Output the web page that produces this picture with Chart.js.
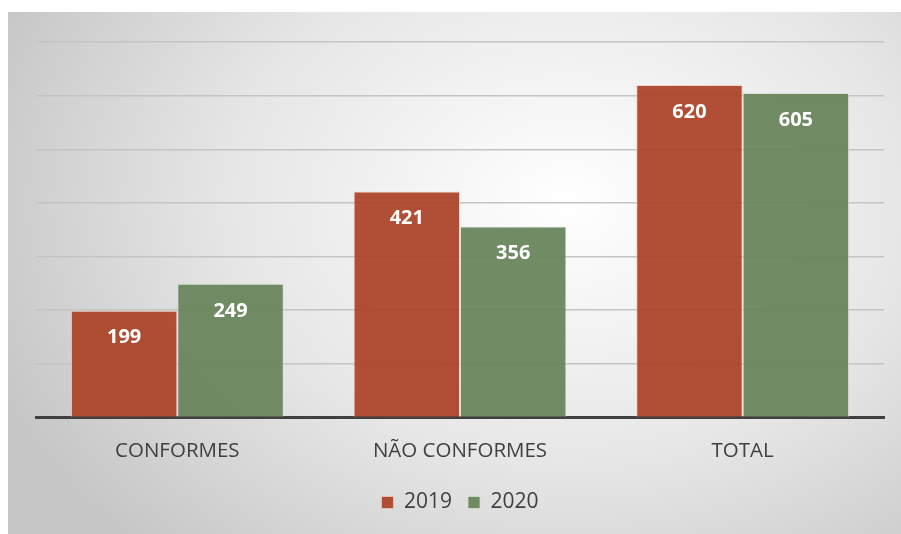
<!DOCTYPE html>
<html>
<head>
<meta charset="utf-8">
<script src="https://cdn.jsdelivr.net/npm/chart.js@4"></script>
<style>
  html, body { margin: 0; padding: 0; background: #fff; }
  #frame {
    position: absolute; left: 8px; top: 12px; width: 893px; height: 522px;
    background: radial-gradient(ellipse 620px 480px at 560px 190px, #ffffff 0%, #e6e6e6 55%, #c6c6c6 100%);
  }
  canvas { display: block; }
</style>
</head>
<body>
<div id="frame"><canvas id="chart" width="893" height="522"></canvas></div>
<script>
const categories = ["CONFORMES", "NÃO CONFORMES", "TOTAL"];
const years = ["2019", "2020"];
const values2019 = [199, 421, 620];
const values2020 = [249, 356, 605];

const valueLabels = {
    id: "valueLabels",
    afterDatasetsDraw(chart) {
        const ctx = chart.ctx;
        ctx.save();
        ctx.font = "bold 20px 'Open Sans', sans-serif";
        ctx.fillStyle = "#ffffff";
        ctx.textAlign = "center";
        ctx.textBaseline = "middle";
        chart.data.datasets.forEach((ds, i) => {
            chart.getDatasetMeta(i).data.forEach((bar, j) => {
                ctx.fillText(ds.data[j], bar.x, bar.y + 27);
            });
        });
        ctx.restore();
    }
};

new Chart(document.getElementById("chart"), {
    type: "bar",
    data: {
        labels: categories,
        datasets: [{
            label: years[0],
            data: values2019,
            backgroundColor: "rgba(172,70,42,0.95)",
            borderColor: "rgba(240,200,190,0.8)",
            borderWidth: 1
        }, {
            label: years[1],
            data: values2020,
            backgroundColor: "rgba(105,133,92,0.95)",
            borderColor: "rgba(210,225,205,0.8)",
            borderWidth: 1
        }]
    },
    options: {
        responsive: false,
        animation: false,
        layout: { padding: { left: 28, right: 17, top: 30, bottom: 11 } },
        datasets: { bar: { categoryPercentage: 0.753, barPercentage: 1 } },
        scales: {
            x: {
                grid: { display: false },
                border: { display: true, color: "#404040", width: 3 },
                ticks: { color: "#404040", font: { family: "'Open Sans', sans-serif", size: 20.5 }, padding: 13 }
            },
            y: {
                min: 0, max: 700,
                ticks: { display: false, stepSize: 100 },
                border: { display: false },
                grid: { color: "#c4c4c4", lineWidth: 1.5, drawTicks: false }
            }
        },
        plugins: {
            legend: {
                position: "bottom",
                labels: {
                    color: "#404040",
                    font: { family: "'Open Sans', sans-serif", size: 21 },
                    boxWidth: 12, boxHeight: 12, padding: 16
                }
            },
            tooltip: { enabled: false }
        }
    },
    plugins: [valueLabels]
});
</script>
</body>
</html>
